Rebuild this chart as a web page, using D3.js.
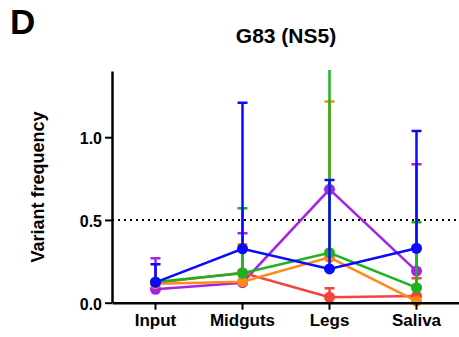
<!DOCTYPE html>
<html>
<head>
<meta charset="utf-8">
<script src="https://cdn.jsdelivr.net/npm/d3@7"></script>
<style>
  html, body { margin: 0; padding: 0; background: #fff; }
  svg { display: block; font-family: "Liberation Sans", Arial, Helvetica, sans-serif; }
</style>
</head>
<body>
<svg id="chart" width="459" height="337"></svg>
<script>
// Sites sampled along the infection route
const categories = ["Input", "Midguts", "Legs", "Saliva"];
const yTicks = [0.0, 0.5, 1.0];
const threshold = 0.5;

// Mean variant frequency per replicate line, and upper error-bar ends (null = none drawn)
const redMean = [0.120, 0.181, 0.033, 0.040];
const redUpper = [null, null, 0.087, 0.147];
const purpleMean = [0.081, 0.121, 0.685, 0.191];
const purpleUpper = [0.268, 0.419, null, 0.836];
const orangeMean = [0.115, 0.127, 0.274, 0.010];
const orangeUpper = [null, 0.353, 1.215, null];
const greenMean = [0.125, 0.178, 0.302, 0.091];
const greenUpper = [null, 0.570, 1.600, 0.486];
const blueMean = [0.123, 0.326, 0.204, 0.329];
const blueUpper = [0.232, 1.208, 0.741, 1.037];

const series = [
  { color: "#a424e6", mean: purpleMean, upper: purpleUpper },
  { color: "#f5443f", mean: redMean, upper: redUpper },
  { color: "#ff8a16", mean: orangeMean, upper: orangeUpper },
  { color: "#1fb21f", mean: greenMean, upper: greenUpper },
  { color: "#0a0aff", mean: blueMean, upper: blueUpper }
];

const svg = d3.select("#chart");
const plotLeft = 112, plotRight = 460, plotTop = 71, plotBottom = 302.7;

const x = d3.scaleBand().domain(categories).range([plotLeft, plotRight]);
const y = d3.scaleLinear().domain([0, 1.4]).range([plotBottom, plotTop]);
const cx = c => x(c) + x.bandwidth() / 2;

// Panel letter and title
svg.append("text").attr("x", 10).attr("y", 34)
  .attr("font-size", 35).attr("font-weight", "bold").text("D");
svg.append("text").attr("x", 286).attr("y", 43).attr("text-anchor", "middle")
  .attr("font-size", 21).attr("font-weight", "bold").text("G83 (NS5)");

// Y axis title
svg.append("text")
  .attr("transform", "translate(44,187) rotate(-90)")
  .attr("text-anchor", "middle")
  .attr("font-size", 18).attr("font-weight", "bold")
  .text("Variant frequency");

// Dotted reference line at 0.5
svg.append("line")
  .attr("x1", plotLeft).attr("x2", 459)
  .attr("y1", y(threshold)).attr("y2", y(threshold))
  .attr("stroke", "#000").attr("stroke-width", 2)
  .attr("stroke-dasharray", "2,4");

// Clip marks to the plotting area
svg.append("clipPath").attr("id", "plot")
  .append("rect").attr("x", plotLeft).attr("y", plotTop - 1)
  .attr("width", 459 - plotLeft).attr("height", plotBottom - plotTop + 10);

const plot = svg.append("g").attr("clip-path", "url(#plot)");

const line = d3.line().x((d, i) => cx(categories[i])).y(d => y(d));

series.forEach(s => {
  const g = plot.append("g");
  // upper error bars
  s.upper.forEach((u, i) => {
    if (u == null) return;
    const xc = cx(categories[i]);
    g.append("line").attr("x1", xc).attr("x2", xc)
      .attr("y1", y(s.mean[i])).attr("y2", y(u))
      .attr("stroke", s.color).attr("stroke-width", 2.5);
    g.append("line").attr("x1", xc - 5).attr("x2", xc + 5)
      .attr("y1", y(u)).attr("y2", y(u))
      .attr("stroke", s.color).attr("stroke-width", 2.5);
  });
  g.append("path").datum(s.mean).attr("d", line)
    .attr("fill", "none").attr("stroke", s.color).attr("stroke-width", 2.5);
  g.selectAll("circle").data(s.mean).join("circle")
    .attr("cx", (d, i) => cx(categories[i])).attr("cy", d => y(d))
    .attr("r", 5.5).attr("fill", s.color);
});

// Axes
const yAxis = svg.append("g").attr("transform", `translate(${plotLeft},0)`)
  .call(d3.axisLeft(y).tickValues(yTicks).tickFormat(d3.format(".1f")).tickSize(7).tickSizeOuter(0));
const xAxis = svg.append("g").attr("transform", `translate(0,${plotBottom})`)
  .call(d3.axisBottom(x).tickSize(7).tickSizeOuter(0));

[yAxis, xAxis].forEach(a => {
  a.select(".domain").attr("stroke", "#000").attr("stroke-width", 2.5);
  a.selectAll(".tick line").attr("stroke", "#000").attr("stroke-width", 2);
  a.selectAll(".tick text").attr("fill", "#000").attr("font-weight", "bold")
    .attr("font-family", "'Liberation Sans', Arial, sans-serif");
});
yAxis.selectAll(".tick text").attr("font-size", 16).attr("x", -10).attr("dy", "0.4em");
xAxis.selectAll(".tick text").attr("font-size", 17).attr("y", 11).attr("dy", "0.71em");
</script>
</body>
</html>
